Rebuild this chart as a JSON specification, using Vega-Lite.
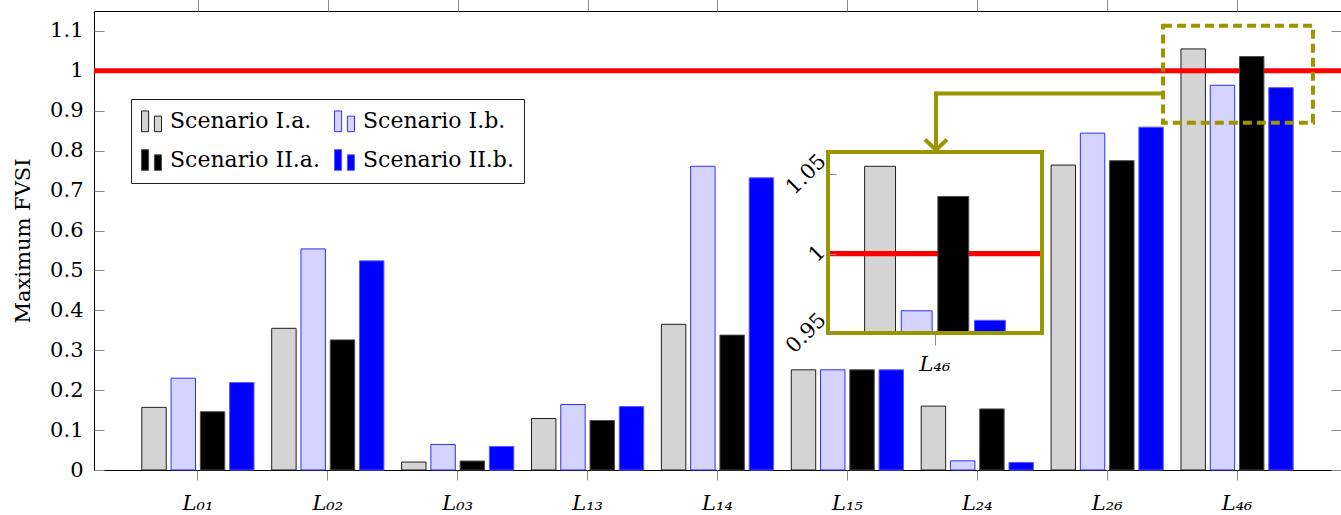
{
  "$schema": "https://vega.github.io/schema/vega-lite/v6.json",
  "width": 1247,
  "height": 459,
  "autosize": {"type": "none"},
  "padding": {"left": 94, "top": 11, "right": 0, "bottom": 45},
  "background": "white",
  "config": {
    "font": "DejaVu Serif",
    "view": {"stroke": "#000000", "strokeWidth": 1},
    "axis": {"grid": false, "labelColor": "#000000", "titleColor": "#000000", "tickColor": "#8c8c8c", "labelFontSize": 21, "titleFontSize": 21, "titleFontWeight": "normal"}
  },
  "datasets": {
    "fvsi": [
      {"line": "L₀₁", "scenario": "Scenario I.a.", "fvsi": 0.157},
      {"line": "L₀₁", "scenario": "Scenario I.b.", "fvsi": 0.230},
      {"line": "L₀₁", "scenario": "Scenario II.a.", "fvsi": 0.146},
      {"line": "L₀₁", "scenario": "Scenario II.b.", "fvsi": 0.219},
      {"line": "L₀₂", "scenario": "Scenario I.a.", "fvsi": 0.355},
      {"line": "L₀₂", "scenario": "Scenario I.b.", "fvsi": 0.554},
      {"line": "L₀₂", "scenario": "Scenario II.a.", "fvsi": 0.326},
      {"line": "L₀₂", "scenario": "Scenario II.b.", "fvsi": 0.524},
      {"line": "L₀₃", "scenario": "Scenario I.a.", "fvsi": 0.020},
      {"line": "L₀₃", "scenario": "Scenario I.b.", "fvsi": 0.064},
      {"line": "L₀₃", "scenario": "Scenario II.a.", "fvsi": 0.0225},
      {"line": "L₀₃", "scenario": "Scenario II.b.", "fvsi": 0.059},
      {"line": "L₁₃", "scenario": "Scenario I.a.", "fvsi": 0.129},
      {"line": "L₁₃", "scenario": "Scenario I.b.", "fvsi": 0.164},
      {"line": "L₁₃", "scenario": "Scenario II.a.", "fvsi": 0.124},
      {"line": "L₁₃", "scenario": "Scenario II.b.", "fvsi": 0.159},
      {"line": "L₁₄", "scenario": "Scenario I.a.", "fvsi": 0.365},
      {"line": "L₁₄", "scenario": "Scenario I.b.", "fvsi": 0.761},
      {"line": "L₁₄", "scenario": "Scenario II.a.", "fvsi": 0.338},
      {"line": "L₁₄", "scenario": "Scenario II.b.", "fvsi": 0.732},
      {"line": "L₁₅", "scenario": "Scenario I.a.", "fvsi": 0.251},
      {"line": "L₁₅", "scenario": "Scenario I.b.", "fvsi": 0.251},
      {"line": "L₁₅", "scenario": "Scenario II.a.", "fvsi": 0.251},
      {"line": "L₁₅", "scenario": "Scenario II.b.", "fvsi": 0.251},
      {"line": "L₂₄", "scenario": "Scenario I.a.", "fvsi": 0.160},
      {"line": "L₂₄", "scenario": "Scenario I.b.", "fvsi": 0.023},
      {"line": "L₂₄", "scenario": "Scenario II.a.", "fvsi": 0.153},
      {"line": "L₂₄", "scenario": "Scenario II.b.", "fvsi": 0.019},
      {"line": "L₂₆", "scenario": "Scenario I.a.", "fvsi": 0.764},
      {"line": "L₂₆", "scenario": "Scenario I.b.", "fvsi": 0.844},
      {"line": "L₂₆", "scenario": "Scenario II.a.", "fvsi": 0.775},
      {"line": "L₂₆", "scenario": "Scenario II.b.", "fvsi": 0.859},
      {"line": "L₄₆", "scenario": "Scenario I.a.", "fvsi": 1.055},
      {"line": "L₄₆", "scenario": "Scenario I.b.", "fvsi": 0.964},
      {"line": "L₄₆", "scenario": "Scenario II.a.", "fvsi": 1.036},
      {"line": "L₄₆", "scenario": "Scenario II.b.", "fvsi": 0.958}
    ]
  },
  "layer": [
    {
      "data": {"name": "fvsi"},
      "layer": [
        {
          "transform": [{"filter": {"field": "scenario", "oneOf": ["Scenario I.a.", "Scenario I.b."]}}],
          "mark": {"type": "bar", "strokeWidth": 1},
          "encoding": {
            "x": {"field": "line", "type": "nominal", "sort": null, "scale": {"domain": ["L₀₁", "L₀₂", "L₀₃", "L₁₃", "L₁₄", "L₁₅", "L₂₄", "L₂₆", "L₄₆"], "paddingInner": 0.1, "paddingOuter": 0.35}, "axis": {"orient": "bottom", "tickSize": 10, "labelPadding": 12, "labelFontStyle": "italic", "labelAngle": 0, "domain": false, "title": null}},
            "xOffset": {"field": "scenario", "type": "nominal", "scale": {"domain": ["Scenario I.a.", "Scenario I.b.", "Scenario II.a.", "Scenario II.b."], "paddingInner": 0.165, "paddingOuter": 0.08}},
            "y": {"field": "fvsi", "type": "quantitative", "scale": {"domain": [0, 1.15], "nice": false}, "axis": {"orient": "left", "values": [0, 0.1, 0.2, 0.3, 0.4, 0.5, 0.6, 0.7, 0.8, 0.9, 1, 1.1], "format": "~g", "tickSize": -10, "labelPadding": 21, "domain": false, "title": "Maximum FVSI", "titleX": -71, "titleY": 229.5, "titleAngle": -90, "titleAlign": "center", "titleBaseline": "middle"}},
            "fill": {"field": "scenario", "type": "nominal", "scale": {"domain": ["Scenario I.a.", "Scenario I.b.", "Scenario II.a.", "Scenario II.b."], "range": ["#d4d4d4", "#d4d4ff", "#000000", "#0000ff"]}, "legend": {"orient": "none", "legendX": 37, "legendY": 88, "direction": "horizontal", "columns": 2, "title": null, "symbolType": "M-1,-0.9H-0.38V0.9H-1Z M0.12,-0.45H0.74V0.9H0.12Z", "symbolSize": 529, "symbolStrokeWidth": 1, "symbolOpacity": 1, "labelFontSize": 22, "labelOffset": 5, "padding": 10, "rowPadding": 13, "columnPadding": 12, "strokeColor": "#222222", "fillColor": "#ffffff", "labelColor": "#000000"}},
            "stroke": {"field": "scenario", "type": "nominal", "scale": {"domain": ["Scenario I.a.", "Scenario I.b.", "Scenario II.a.", "Scenario II.b."], "range": ["#1f1f1f", "#2f2fff", "#4d4d4d", "#5a5aff"]}, "legend": {"orient": "none", "legendX": 37, "legendY": 88, "direction": "horizontal", "columns": 2, "title": null, "symbolType": "M-1,-0.9H-0.38V0.9H-1Z M0.12,-0.45H0.74V0.9H0.12Z", "symbolSize": 529, "symbolStrokeWidth": 1, "symbolOpacity": 1, "labelFontSize": 22, "labelOffset": 5, "padding": 10, "rowPadding": 13, "columnPadding": 12, "strokeColor": "#222222", "fillColor": "#ffffff", "labelColor": "#000000"}}
          }
        },
        {
          "transform": [{"filter": "datum.line === 'L₀₁' && datum.scenario === 'Scenario I.a.'"}],
          "mark": {"type": "rule", "color": "#ff0000", "strokeWidth": 5},
          "encoding": {"y": {"datum": 1, "type": "quantitative"}}
        },
        {
          "transform": [{"filter": {"field": "scenario", "oneOf": ["Scenario II.a.", "Scenario II.b."]}}],
          "mark": {"type": "bar", "strokeWidth": 1},
          "encoding": {
            "x": {"field": "line", "type": "nominal", "sort": null, "scale": {"domain": ["L₀₁", "L₀₂", "L₀₃", "L₁₃", "L₁₄", "L₁₅", "L₂₄", "L₂₆", "L₄₆"], "paddingInner": 0.1, "paddingOuter": 0.35}, "axis": {"orient": "bottom", "tickSize": 10, "labelPadding": 12, "labelFontStyle": "italic", "labelAngle": 0, "domain": false, "title": null}},
            "xOffset": {"field": "scenario", "type": "nominal", "scale": {"domain": ["Scenario I.a.", "Scenario I.b.", "Scenario II.a.", "Scenario II.b."], "paddingInner": 0.165, "paddingOuter": 0.08}},
            "y": {"field": "fvsi", "type": "quantitative", "scale": {"domain": [0, 1.15], "nice": false}, "axis": {"orient": "left", "values": [0, 0.1, 0.2, 0.3, 0.4, 0.5, 0.6, 0.7, 0.8, 0.9, 1, 1.1], "format": "~g", "tickSize": -10, "labelPadding": 21, "domain": false, "title": "Maximum FVSI", "titleX": -71, "titleY": 229.5, "titleAngle": -90, "titleAlign": "center", "titleBaseline": "middle"}},
            "fill": {"field": "scenario", "type": "nominal", "scale": {"domain": ["Scenario I.a.", "Scenario I.b.", "Scenario II.a.", "Scenario II.b."], "range": ["#d4d4d4", "#d4d4ff", "#000000", "#0000ff"]}, "legend": {"orient": "none", "legendX": 37, "legendY": 88, "direction": "horizontal", "columns": 2, "title": null, "symbolType": "M-1,-0.9H-0.38V0.9H-1Z M0.12,-0.45H0.74V0.9H0.12Z", "symbolSize": 529, "symbolStrokeWidth": 1, "symbolOpacity": 1, "labelFontSize": 22, "labelOffset": 5, "padding": 10, "rowPadding": 13, "columnPadding": 12, "strokeColor": "#222222", "fillColor": "#ffffff", "labelColor": "#000000"}},
            "stroke": {"field": "scenario", "type": "nominal", "scale": {"domain": ["Scenario I.a.", "Scenario I.b.", "Scenario II.a.", "Scenario II.b."], "range": ["#1f1f1f", "#2f2fff", "#4d4d4d", "#5a5aff"]}, "legend": {"orient": "none", "legendX": 37, "legendY": 88, "direction": "horizontal", "columns": 2, "title": null, "symbolType": "M-1,-0.9H-0.38V0.9H-1Z M0.12,-0.45H0.74V0.9H0.12Z", "symbolSize": 529, "symbolStrokeWidth": 1, "symbolOpacity": 1, "labelFontSize": 22, "labelOffset": 5, "padding": 10, "rowPadding": 13, "columnPadding": 12, "strokeColor": "#222222", "fillColor": "#ffffff", "labelColor": "#000000"}}
          }
        }
      ]
    },
    {
      "data": {"name": "fvsi"},
      "transform": [{"filter": "datum.line === 'L₄₆' && datum.scenario === 'Scenario I.a.'"}],
      "layer": [
        {
          "mark": {"type": "rect", "filled": false, "stroke": "#9b9500", "strokeWidth": 4, "strokeDash": [9, 5]},
          "encoding": {
            "x": {"datum": 7.43, "type": "quantitative", "scale": {"domain": [-0.8, 8.8], "nice": false, "zero": false}, "axis": {"orient": "top", "values": [0, 1, 2, 3, 4, 5, 6, 7, 8], "labels": false, "domain": false, "tickSize": 12, "title": null, "grid": false}},
            "x2": {"datum": 8.584},
            "y": {"datum": 1.113, "type": "quantitative", "scale": {"domain": [0, 1.15], "nice": false, "zero": false}, "axis": {"orient": "right", "values": [0, 0.1, 0.2, 0.3, 0.4, 0.5, 0.6, 0.7, 0.8, 0.9, 1, 1.1], "labels": false, "domain": false, "tickSize": -10, "title": null, "grid": false}},
            "y2": {"datum": 0.87}
          }
        },
        {
          "mark": {"type": "rule", "color": "#9b9500", "strokeWidth": 4, "strokeCap": "square"},
          "encoding": {
            "x": {"datum": 5.682, "type": "quantitative", "axis": {"orient": "top", "values": [0, 1, 2, 3, 4, 5, 6, 7, 8], "labels": false, "domain": false, "tickSize": 12, "title": null, "grid": false}},
            "x2": {"datum": 7.43},
            "y": {"datum": 0.943, "type": "quantitative", "axis": {"orient": "right", "values": [0, 0.1, 0.2, 0.3, 0.4, 0.5, 0.6, 0.7, 0.8, 0.9, 1, 1.1], "labels": false, "domain": false, "tickSize": -10, "title": null, "grid": false}}
          }
        },
        {
          "mark": {"type": "rule", "color": "#9b9500", "strokeWidth": 4, "strokeCap": "square"},
          "encoding": {
            "x": {"datum": 5.682, "type": "quantitative", "axis": {"orient": "top", "values": [0, 1, 2, 3, 4, 5, 6, 7, 8], "labels": false, "domain": false, "tickSize": 12, "title": null, "grid": false}},
            "y": {"datum": 0.943, "type": "quantitative", "axis": {"orient": "right", "values": [0, 0.1, 0.2, 0.3, 0.4, 0.5, 0.6, 0.7, 0.8, 0.9, 1, 1.1], "labels": false, "domain": false, "tickSize": -10, "title": null, "grid": false}},
            "y2": {"datum": 0.806}
          }
        },
        {
          "mark": {"type": "point", "shape": "M-1,-0.95L0,0L1,-0.95", "filled": false, "color": "#9b9500", "strokeWidth": 4, "size": 484, "opacity": 1},
          "encoding": {
            "x": {"datum": 5.682, "type": "quantitative", "axis": {"orient": "top", "values": [0, 1, 2, 3, 4, 5, 6, 7, 8], "labels": false, "domain": false, "tickSize": 12, "title": null, "grid": false}},
            "y": {"datum": 0.8018, "type": "quantitative", "axis": {"orient": "right", "values": [0, 0.1, 0.2, 0.3, 0.4, 0.5, 0.6, 0.7, 0.8, 0.9, 1, 1.1], "labels": false, "domain": false, "tickSize": -10, "title": null, "grid": false}}
          }
        }
      ]
    },
    {
      "data": {"name": "fvsi"},
      "transform": [{"filter": "datum.line === 'L₄₆'"}],
      "layer": [
        {
          "transform": [{"filter": "datum.scenario === 'Scenario I.a.'"}],
          "mark": {"type": "rect", "fill": "#ffffff", "strokeWidth": 0},
          "encoding": {
            "x": {"field": "line", "type": "nominal", "scale": {"domain": ["L₄₆"], "range": [734, 948], "paddingInner": 0, "paddingOuter": 0}, "axis": {"orient": "bottom", "offset": -137, "tickSize": 12, "labelPadding": 8, "labelFontStyle": "italic", "labelAngle": 0, "domain": false, "title": null, "zindex": 1}},
            "y": {"datum": 1.064, "type": "quantitative", "scale": {"domain": [0.95, 1.064], "range": [322, 141], "nice": false, "zero": false}, "axis": {"orient": "left", "offset": -734, "values": [0.95, 1, 1.05], "format": "~g", "labelAngle": -45, "labelAlign": "center", "labelBaseline": "middle", "labelPadding": {"condition": {"test": "datum.value == 1", "value": 19}, "value": 30}, "tickSize": -8, "domain": false, "title": null, "zindex": 1}},
            "y2": {"datum": 0.95}
          }
        },
        {
          "transform": [{"filter": {"field": "scenario", "oneOf": ["Scenario I.a.", "Scenario I.b."]}}],
          "mark": {"type": "bar", "strokeWidth": 1},
          "encoding": {
            "x": {"field": "line", "type": "nominal", "scale": {"domain": ["L₄₆"], "range": [734, 948], "paddingInner": 0, "paddingOuter": 0}},
            "xOffset": {"field": "scenario", "type": "nominal", "scale": {"domain": ["Scenario I.a.", "Scenario I.b.", "Scenario II.a.", "Scenario II.b."], "paddingInner": 0.156, "paddingOuter": 1.42}},
            "y": {"field": "fvsi", "type": "quantitative"},
            "y2": {"datum": 0.95},
            "fill": {"field": "scenario", "type": "nominal", "scale": {"domain": ["Scenario I.a.", "Scenario I.b.", "Scenario II.a.", "Scenario II.b."], "range": ["#d4d4d4", "#d4d4ff", "#000000", "#0000ff"]}, "legend": null},
            "stroke": {"field": "scenario", "type": "nominal", "scale": {"domain": ["Scenario I.a.", "Scenario I.b.", "Scenario II.a.", "Scenario II.b."], "range": ["#1f1f1f", "#2f2fff", "#4d4d4d", "#5a5aff"]}, "legend": null}
          }
        },
        {
          "transform": [{"filter": "datum.scenario === 'Scenario I.a.'"}],
          "mark": {"type": "rect", "color": "#ff0000", "strokeWidth": 0},
          "encoding": {
            "x": {"field": "line", "type": "nominal"},
            "y": {"datum": 1.0016, "type": "quantitative"},
            "y2": {"datum": 0.9984}
          }
        },
        {
          "transform": [{"filter": {"field": "scenario", "oneOf": ["Scenario II.a.", "Scenario II.b."]}}],
          "mark": {"type": "bar", "strokeWidth": 1},
          "encoding": {
            "x": {"field": "line", "type": "nominal"},
            "xOffset": {"field": "scenario", "type": "nominal", "scale": {"domain": ["Scenario I.a.", "Scenario I.b.", "Scenario II.a.", "Scenario II.b."], "paddingInner": 0.156, "paddingOuter": 1.42}},
            "y": {"field": "fvsi", "type": "quantitative"},
            "y2": {"datum": 0.95},
            "fill": {"field": "scenario", "type": "nominal", "scale": {"domain": ["Scenario I.a.", "Scenario I.b.", "Scenario II.a.", "Scenario II.b."], "range": ["#d4d4d4", "#d4d4ff", "#000000", "#0000ff"]}, "legend": null},
            "stroke": {"field": "scenario", "type": "nominal", "scale": {"domain": ["Scenario I.a.", "Scenario I.b.", "Scenario II.a.", "Scenario II.b."], "range": ["#1f1f1f", "#2f2fff", "#4d4d4d", "#5a5aff"]}, "legend": null}
          }
        },
        {
          "transform": [{"filter": "datum.scenario === 'Scenario I.a.'"}],
          "mark": {"type": "rect", "filled": false, "stroke": "#9b9500", "strokeWidth": 4},
          "encoding": {
            "x": {"field": "line", "type": "nominal"},
            "y": {"datum": 1.064, "type": "quantitative"},
            "y2": {"datum": 0.95}
          }
        }
      ]
    }
  ],
  "resolve": {
    "scale": {"x": "independent", "y": "independent", "xOffset": "independent", "fill": "independent", "stroke": "independent"},
    "axis": {"x": "independent", "y": "independent"},
    "legend": {"fill": "independent", "stroke": "independent"}
  }
}
